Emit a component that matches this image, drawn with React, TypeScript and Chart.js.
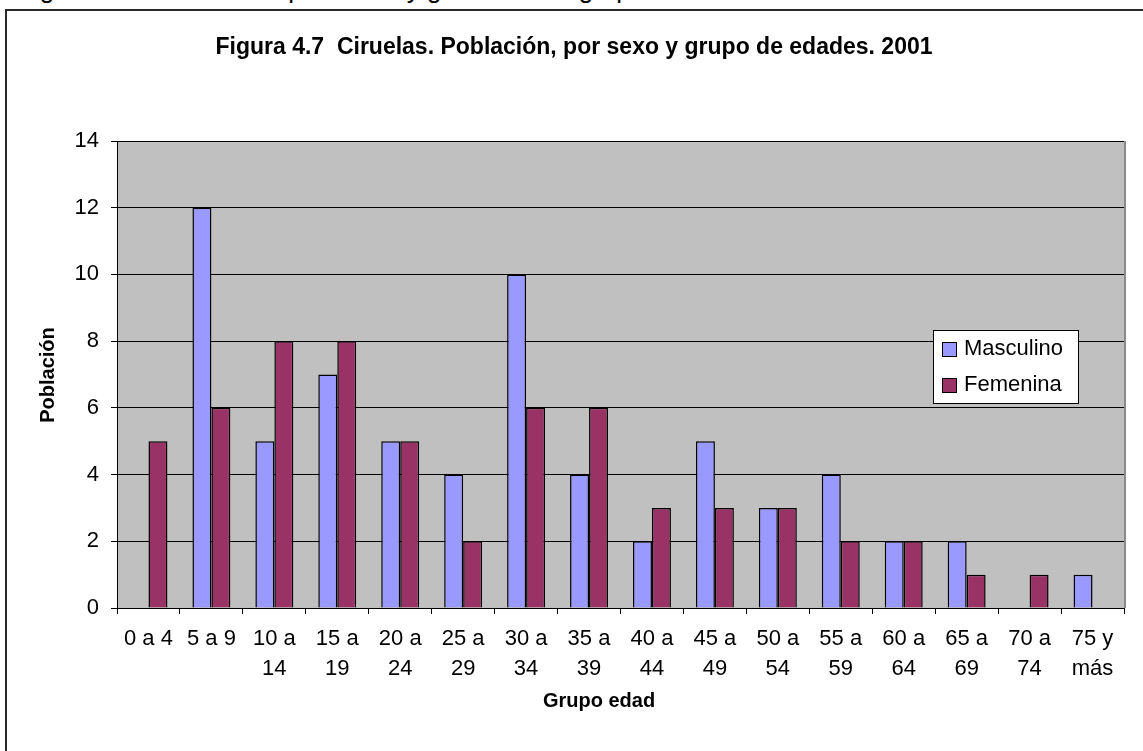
import React, { useEffect, useRef } from "react";
import { Chart, registerables } from "chart.js";

Chart.register(...registerables);

const categories: (string | string[])[] = [
  "0 a 4",
  "5 a 9",
  ["10 a", "14"],
  ["15 a", "19"],
  ["20 a", "24"],
  ["25 a", "29"],
  ["30 a", "34"],
  ["35 a", "39"],
  ["40 a", "44"],
  ["45 a", "49"],
  ["50 a", "54"],
  ["55 a", "59"],
  ["60 a", "64"],
  ["65 a", "69"],
  ["70 a", "74"],
  ["75 y", "más"],
];
const masculino = [0, 12, 5, 7, 5, 4, 10, 4, 2, 5, 3, 4, 2, 2, 0, 1];
const femenina = [5, 6, 8, 8, 5, 2, 6, 6, 3, 3, 3, 2, 2, 1, 1, 0];
const yTicks = [0, 2, 4, 6, 8, 10, 12, 14];

const titleText = "Figura 4.7  Ciruelas. Población, por sexo y grupo de edades. 2001";
const yTitle = "Población";
const xTitle = "Grupo edad";
const topCaption = "Figura 4.7 Pirámide de población y género en el grupo de edades";

const FONT = "'Liberation Sans', Arial, Helvetica, sans-serif";

const decorPlugin = {
  id: "decor",
  beforeDraw(chart: any) {
    const { ctx, chartArea } = chart;
    ctx.save();
    ctx.fillStyle = "#C0C0C0";
    ctx.fillRect(chartArea.left, chartArea.top, chartArea.right - chartArea.left, chartArea.bottom - chartArea.top);
    ctx.restore();
  },
  afterDraw(chart: any) {
    const { ctx, chartArea } = chart;
    ctx.save();
    // plot area right border
    ctx.strokeStyle = "#8a8a8a";
    ctx.lineWidth = 2;
    ctx.beginPath();
    ctx.moveTo(chartArea.right + 1, chartArea.top);
    ctx.lineTo(chartArea.right + 1, chartArea.bottom);
    ctx.stroke();

    // main title
    ctx.fillStyle = "#000";
    ctx.font = `bold 23px ${FONT}`;
    ctx.textAlign = "center";
    ctx.textBaseline = "alphabetic";
    ctx.fillText(titleText, 574, 54);

    // x title
    ctx.font = `bold 20px ${FONT}`;
    ctx.fillText(xTitle, 599, 707);

    // y title
    ctx.save();
    ctx.translate(54, 375);
    ctx.rotate(-Math.PI / 2);
    ctx.fillText(yTitle, 0, 0);
    ctx.restore();

    // legend
    const lx = 933, ly = 330, lw = 145, lh = 73;
    ctx.fillStyle = "#fff";
    ctx.fillRect(lx, ly, lw, lh);
    ctx.strokeStyle = "#000";
    ctx.lineWidth = 1;
    ctx.strokeRect(lx + 0.5, ly + 0.5, lw, lh);
    ctx.font = `22px ${FONT}`;
    ctx.textAlign = "left";
    ctx.textBaseline = "middle";
    chart.data.datasets.forEach((ds: any, i: number) => {
      const cy = 349 + i * 36;
      ctx.fillStyle = ds.backgroundColor;
      ctx.fillRect(942, cy - 7, 14, 14);
      ctx.strokeStyle = "#000";
      ctx.strokeRect(942.5, cy - 6.5, 14, 14);
      ctx.fillStyle = "#000";
      ctx.fillText(ds.label, 964, cy);
    });
    ctx.restore();
  },
};

export default function App() {
  const ref = useRef<HTMLCanvasElement | null>(null);
  useEffect(() => {
    document.body.style.margin = "0";
    const chart = new Chart(ref.current!, {
      type: "bar",
      data: {
        labels: categories as any,
        datasets: [
          {
            label: "Masculino",
            data: masculino,
            backgroundColor: "#9999FF",
            borderColor: "#000",
            borderWidth: 1.5,
            categoryPercentage: 0.603,
            barPercentage: 1,
          },
          {
            label: "Femenina",
            data: femenina,
            backgroundColor: "#993366",
            borderColor: "#000",
            borderWidth: 1.5,
            categoryPercentage: 0.603,
            barPercentage: 1,
          },
        ],
      },
      options: {
        responsive: false,
        animation: false,
        layout: { padding: { left: 0, top: 141, right: 19, bottom: 0 } },
        plugins: { legend: { display: false }, title: { display: false }, tooltip: { enabled: false } },
        scales: {
          x: {
            offset: true,
            grid: { drawOnChartArea: false, drawTicks: true, tickLength: 6, color: "#000", offset: true },
            border: { display: true, color: "#000", width: 1 },
            ticks: {
              color: "#000",
              font: { family: FONT, size: 22, lineHeight: 1.36 },
              padding: 10,
              maxRotation: 0,
              autoSkip: false,
            },
            afterFit: (s: any) => {
              s.height = 751 - 608;
            },
          },
          y: {
            min: 0,
            max: 14,
            afterBuildTicks: (s: any) => {
              s.ticks = yTicks.map((v) => ({ value: v }));
            },
            grid: { color: "#000", lineWidth: 1, drawTicks: true, tickLength: 6 },
            border: { display: true, color: "#000", width: 1 },
            ticks: {
              color: "#000",
              font: { family: FONT, size: 22 },
              padding: 12,
            },
            afterFit: (s: any) => {
              s.width = 117;
            },
          },
        },
      },
      plugins: [decorPlugin],
    });
    return () => chart.destroy();
  }, []);

  return (
    <div
      style={{
        position: "fixed",
        left: 0,
        top: 0,
        width: 1143,
        height: 751,
        background: "#fff",
        overflow: "hidden",
      }}
    >
      <div
        style={{
          position: "absolute",
          left: 18,
          top: -24,
          fontFamily: FONT,
          fontSize: 26,
          lineHeight: "26px",
          whiteSpace: "nowrap",
          color: "#000",
        }}
      >
        {topCaption}
      </div>
      <div
        style={{
          position: "absolute",
          left: 5,
          top: 9,
          width: 1200,
          height: 800,
          borderLeft: "2px solid #2a2a2a",
          borderTop: "2px solid #2a2a2a",
        }}
      />
      <canvas ref={ref} width={1143} height={751} style={{ position: "absolute", left: 0, top: 0 }} />
    </div>
  );
}
